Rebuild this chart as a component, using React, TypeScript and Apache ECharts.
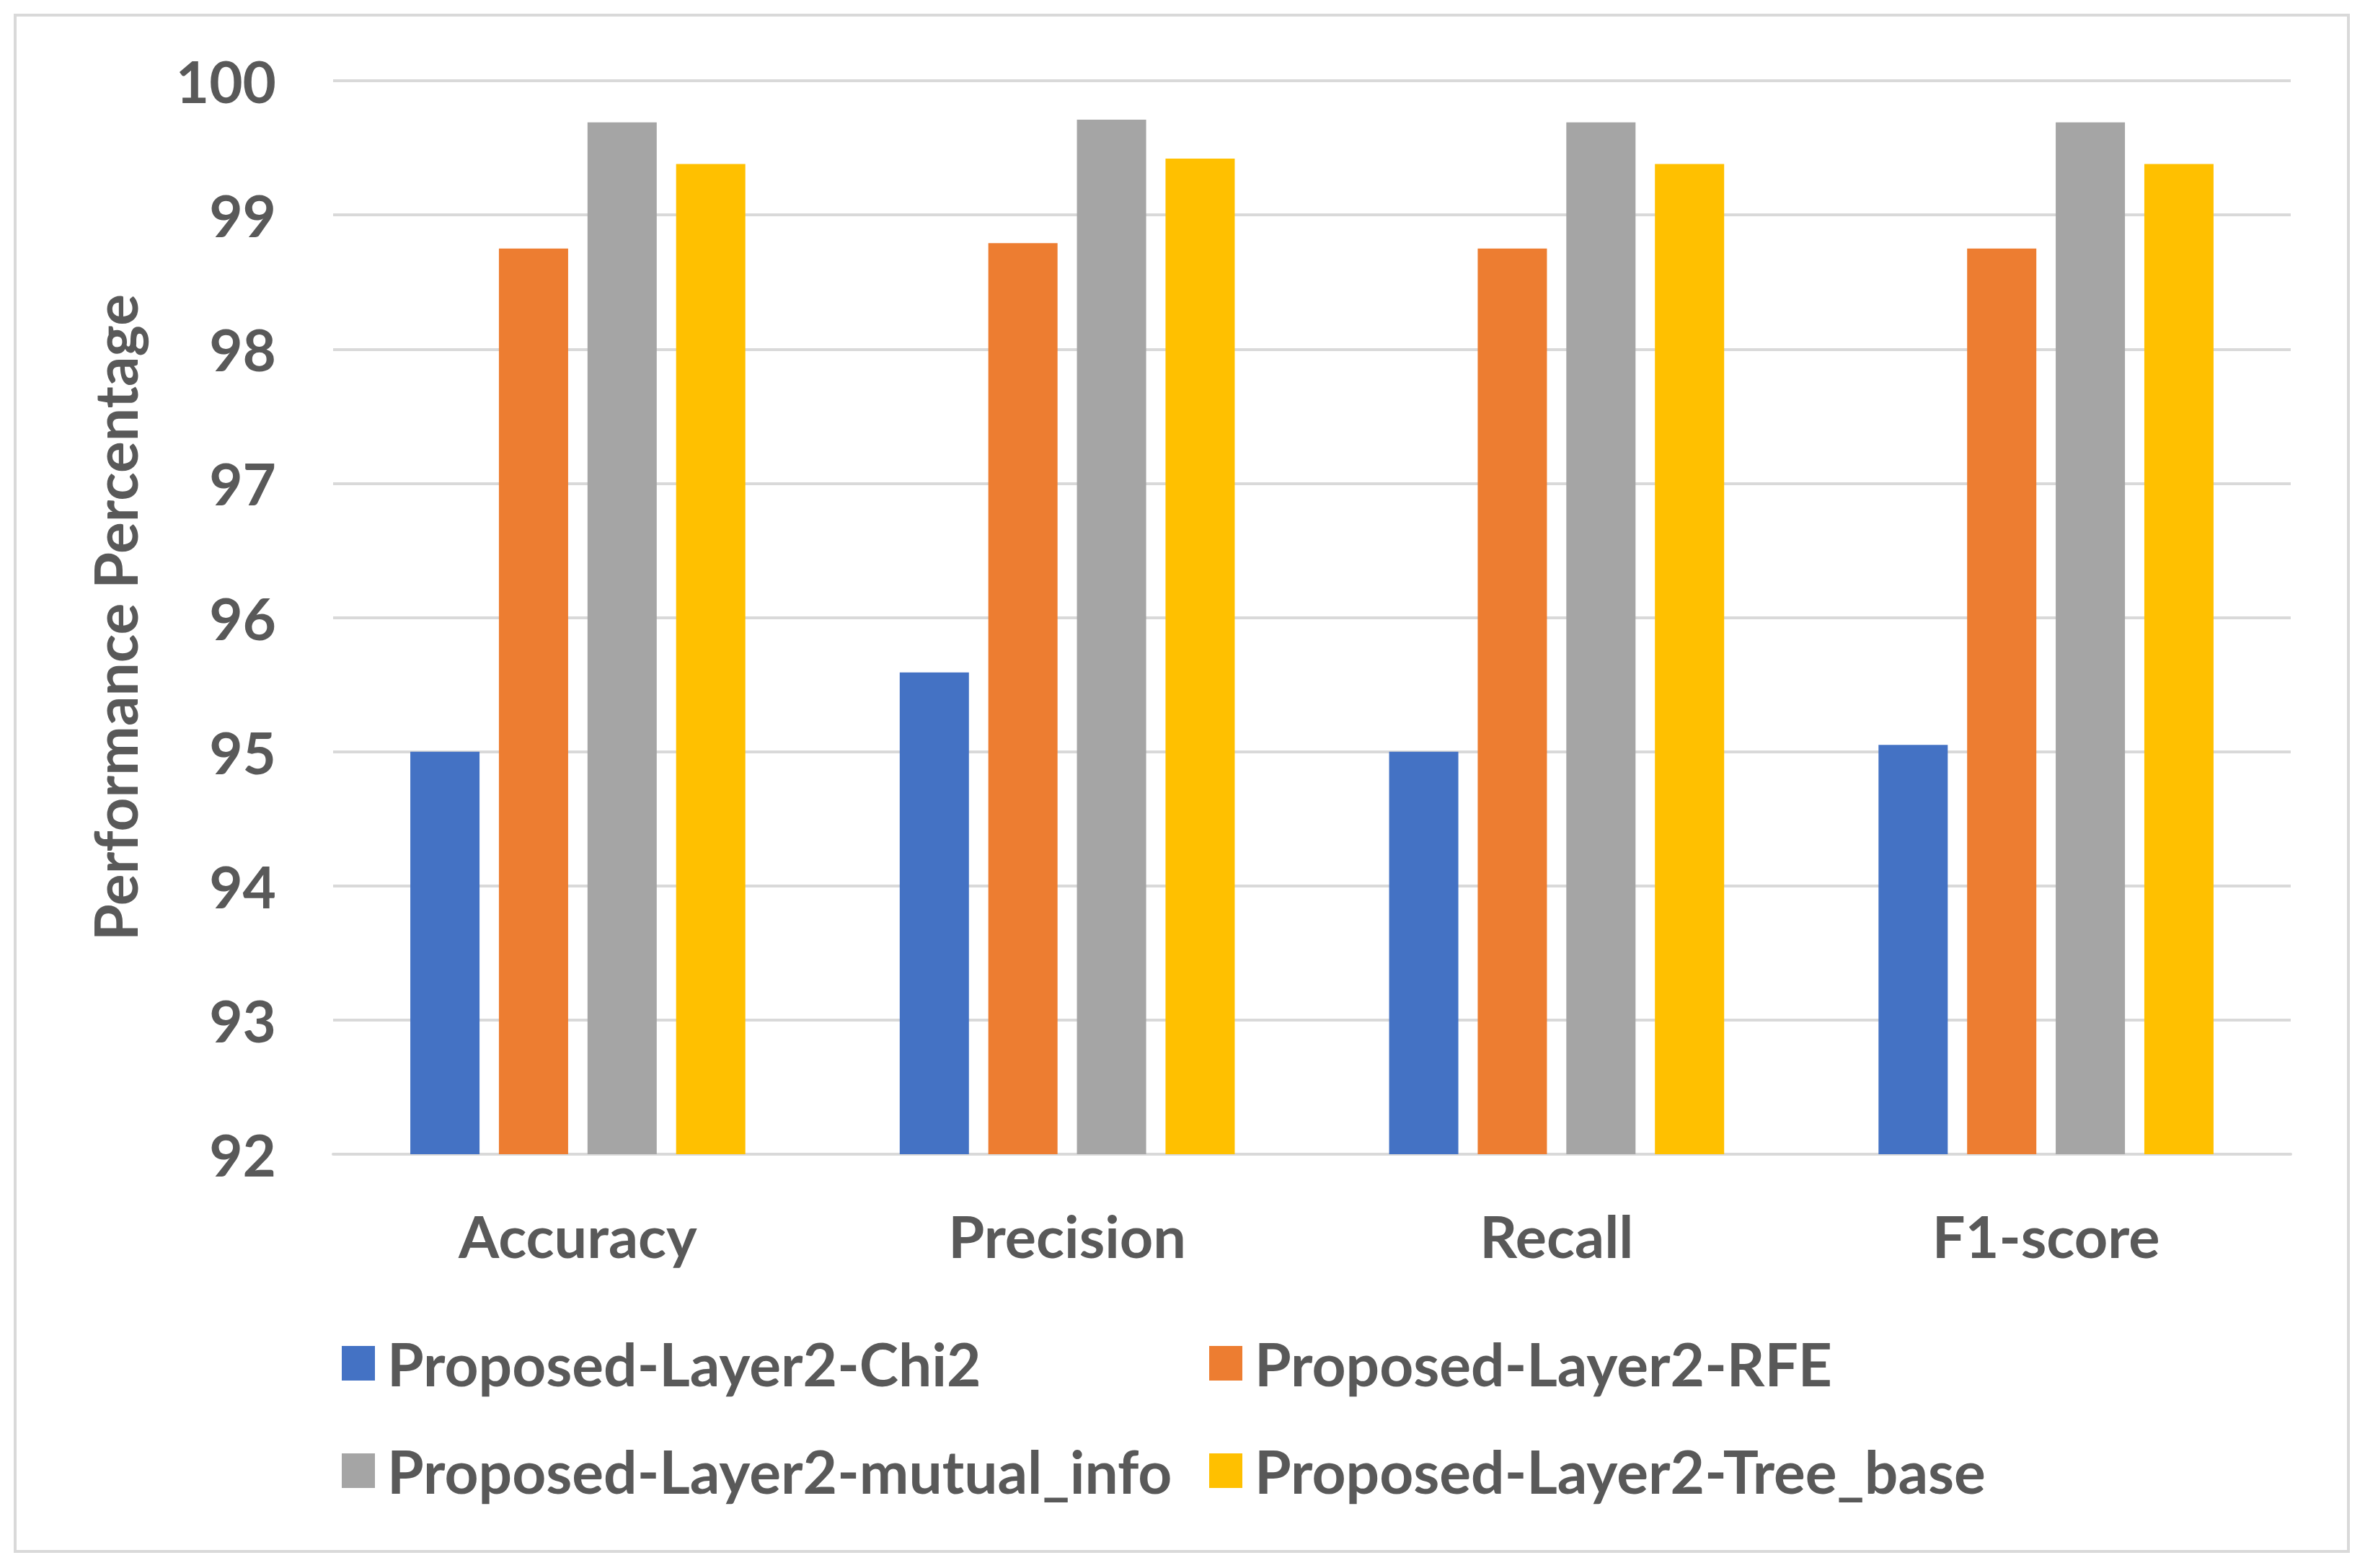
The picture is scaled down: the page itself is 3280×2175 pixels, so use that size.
import React, { useEffect, useRef } from "react";
import * as echarts from "echarts";

const categories = ["Accuracy", "Precision", "Recall", "F1-score"];
const seriesNames = [
  "Proposed-Layer2-Chi2",
  "Proposed-Layer2-RFE",
  "Proposed-Layer2-mutual_info",
  "Proposed-Layer2-Tree_base",
];
const chi2Values = [95.0, 95.59, 95.0, 95.05];
const rfeValues = [98.75, 98.79, 98.75, 98.75];
const mutualInfoValues = [99.69, 99.71, 99.69, 99.69];
const treeBaseValues = [99.38, 99.42, 99.38, 99.38];
const colors = ["#4472C4", "#ED7D31", "#A5A5A5", "#FFC000"];
const yTicks = { min: 92, max: 100, interval: 1 };

const FONT = "Lato";
const TEXT = "#595959";
const GRID = "#D9D9D9";

export default function App() {
  const ref = useRef<HTMLDivElement>(null);
  useEffect(() => {
    if (!ref.current) return;
    const chart = echarts.init(ref.current, undefined, { renderer: "svg" });
    const values = [chi2Values, rfeValues, mutualInfoValues, treeBaseValues];
    const legendText = {
      fontFamily: FONT,
      fontWeight: "bold" as const,
      fontSize: 82,
      lineHeight: 82,
      color: TEXT,
      padding: [0, 0, 0, 12],
    };
    const legendCommon = {
      orient: "vertical" as const,
      top: 1845,
      itemWidth: 46,
      itemHeight: 48,
      itemGap: 67,
      icon: "rect",
      textStyle: legendText,
    };
    chart.setOption({
      animation: false,
      backgroundColor: "#FFFFFF",
      color: colors,
      graphic: [
        {
          type: "rect",
          shape: { x: 21, y: 21, width: 3236, height: 2131 },
          style: { fill: "none", stroke: GRID, lineWidth: 4 },
          silent: true,
        },
      ],
      grid: { left: 462, right: 103, top: 112, bottom: 574, containLabel: false },
      legend: [
        { ...legendCommon, left: 469, data: [seriesNames[0], seriesNames[2]] },
        { ...legendCommon, left: 1672, data: [seriesNames[1], seriesNames[3]] },
      ],
      xAxis: {
        type: "category",
        data: categories,
        axisTick: { show: false },
        axisLine: { lineStyle: { color: GRID, width: 4 } },
        axisLabel: {
          fontFamily: FONT,
          fontWeight: "bold",
          fontSize: 81,
          color: TEXT,
          margin: 72,
        },
      },
      yAxis: {
        type: "value",
        min: yTicks.min,
        max: yTicks.max,
        interval: yTicks.interval,
        name: "Performance Percentage",
        nameLocation: "middle",
        nameRotate: 90,
        nameGap: 262,
        nameTextStyle: {
          fontFamily: FONT,
          fontWeight: "bold",
          fontSize: 82,
          color: TEXT,
        },
        axisLine: { show: false },
        axisTick: { show: false },
        splitLine: { lineStyle: { color: GRID, width: 4 } },
        axisLabel: {
          fontFamily: FONT,
          fontWeight: "bold",
          fontSize: 80,
          color: TEXT,
          margin: 79,
        },
      },
      series: seriesNames.map((name, i) => ({
        name,
        type: "bar",
        data: values[i],
        barWidth: 96,
        barGap: "28%",
        itemStyle: { color: colors[i] },
      })),
    });
    return () => chart.dispose();
  }, []);
  return (
    <div
      ref={ref}
      style={{ position: "fixed", left: 0, top: 0, width: 3280, height: 2175, background: "#fff" }}
    />
  );
}
